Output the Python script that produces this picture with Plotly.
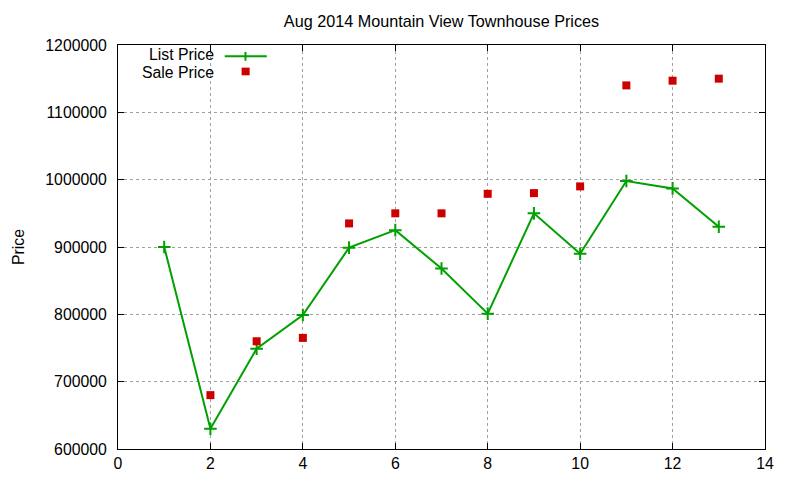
import plotly.graph_objects as go

# values
house = [1, 2, 3, 4, 5, 6, 7, 8, 9, 10, 11, 12, 13]
list_price = [900000, 630000, 749000, 799000, 899000, 925000, 868000,
              801000, 950000, 890000, 998000, 987000, 930000]
sale_x = [2, 3, 4, 5, 6, 7, 8, 9, 10, 11, 12, 13]
sale_price = [680000, 760000, 765000, 935000, 950000, 950000, 979000,
              980000, 990000, 1140000, 1147000, 1150000]

green = '#00a000'
red = '#cc0000'
font = 'Liberation Sans, Arial, sans-serif'
fs = 15.8

fig = go.Figure()
fig.add_trace(go.Scatter(x=house, y=list_price, name='List Price',
                         mode='lines+markers',
                         line=dict(color=green, width=2),
                         marker=dict(symbol='cross-thin', size=9,
                                     line=dict(color=green, width=2))))
fig.add_trace(go.Scatter(x=sale_x, y=sale_price, name='Sale Price',
                         mode='markers',
                         marker=dict(symbol='square', size=8, color=red)))

# gnuplot-style key: text on the left, sample on the right
fig.add_annotation(x=0.152, y=0.977, xref='paper', yref='paper', text='List Price',
                   showarrow=False, xanchor='right', yanchor='middle')
fig.add_annotation(x=0.152, y=0.932, xref='paper', yref='paper', text='Sale Price',
                   showarrow=False, xanchor='right', yanchor='middle')
fig.add_shape(type='line', xref='paper', yref='paper', x0=0.165, x1=0.230,
              y0=0.972, y1=0.972, line=dict(color=green, width=2))
fig.add_shape(type='line', xref='paper', yref='paper', x0=0.197, x1=0.197,
              y0=0.961, y1=0.983, line=dict(color=green, width=2))
fig.add_shape(type='rect', xref='paper', yref='paper', x0=0.191, x1=0.2035,
              y0=0.925, y1=0.944, fillcolor=red, line=dict(width=0))

# y axis title, rotated, out in the left margin
fig.add_annotation(x=-0.1546, y=0.5, xref='paper', yref='paper', text='Price',
                   showarrow=False, textangle=-90, xanchor='center', yanchor='middle')

axis = dict(showline=True, linecolor='black', linewidth=1, mirror='ticks',
            ticks='inside', ticklen=6, tickcolor='black',
            showgrid=True, gridcolor='#a0a0a0', griddash='dot', gridwidth=1,
            zeroline=False, automargin=False, tickfont=dict(size=fs, color='black'))

# the page puts the figure 8px in from the corner, so margins are trimmed by 8
fig.update_layout(
    width=792, height=472,
    margin=dict(l=110, r=35, t=37, b=31),
    plot_bgcolor='white', paper_bgcolor='white',
    font=dict(family=font, size=fs, color='black'),
    showlegend=False,
    title=dict(text='Aug 2014 Mountain View Townhouse Prices', x=0.5, xanchor='center',
               xref='paper', y=0.9725, yanchor='middle', font=dict(size=16.2)),
)
fig.update_xaxes(axis, range=[0, 14], dtick=2)
fig.update_yaxes(axis, range=[600000, 1200000], dtick=100000, tickformat='d',
                 ticklabelstandoff=7)

fig.write_html('out.html')
